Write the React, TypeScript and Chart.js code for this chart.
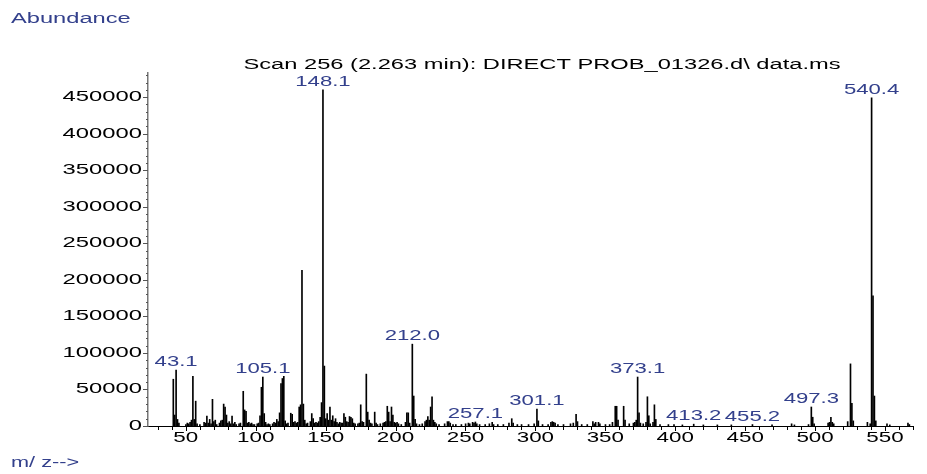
import React, { useEffect, useRef } from 'react';
import { Chart, registerables } from 'chart.js';

Chart.register(...registerables);

// m/z of each peak
const mzValues: number[] = [
  41.1, 42.1, 43.1, 44.1, 45.1, 50.1, 51.1, 52.1, 53.1, 54.1, 55.1, 56.1, 57.1, 58.1, 60.1,
  63.1, 64.1, 65.1, 66.1, 67.1, 68.1, 69.1, 70.1, 71.1, 72.1, 74.1, 75.1, 76.1, 77.1, 78.1,
  79.1, 80.1, 81.1, 82.1, 83.1, 84.1, 85.1, 86.1, 88.1, 89.1, 91.1, 92.1, 93.1, 94.1, 95.1,
  96.1, 97.1, 98.1, 99.1, 101.1, 102.1, 103.1, 104.1, 105.1, 106.1, 107.1, 108.1, 109.1, 110.1,
  112.1, 113.1, 114.1, 115.1, 116.1, 117.1, 118.1, 119.1, 120.1, 121.1, 122.1, 123.1, 125.1,
  126.1, 127.1, 128.1, 129.1, 130.1, 131.1, 132.1, 133.1, 134.1, 135.1, 136.1, 137.1, 139.1,
  140.1, 141.1, 142.1, 143.1, 144.1, 145.1, 146.1, 147.1, 148.1, 149.1, 150.1, 151.1, 152.1,
  153.1, 154.1, 155.1, 156.1, 157.1, 158.1, 159.1, 160.1, 161.1, 162.1, 163.1, 164.1, 165.1,
  166.1, 167.1, 168.1, 169.1, 170.1, 171.1, 173.1, 174.1, 175.1, 176.1, 177.1, 179.1, 180.1,
  181.1, 182.1, 183.1, 185.1, 186.1, 187.1, 189.1, 191.1, 192.1, 193.1, 194.1, 195.1, 196.1,
  197.1, 198.1, 199.1, 200.1, 201.1, 202.1, 204.1, 207.1, 208.1, 209.1, 210.1, 212.0, 213.0,
  214.0, 215.0, 217.1, 219.1, 221.1, 222.1, 223.1, 224.1, 225.1, 226.1, 227.1, 228.1, 229.1,
  231.1, 235.1, 237.1, 238.1, 239.1, 241.1, 243.1, 247.1, 250.1, 252.1, 253.1, 255.1, 256.1,
  257.1, 258.1, 260.1, 264.1, 267.1, 269.1, 270.1, 273.1, 277.1, 281.1, 283.1, 284.1, 287.1,
  290.1, 295.1, 299.1, 301.1, 302.1, 305.1, 309.1, 311.1, 312.1, 313.1, 314.1, 316.1, 320.1,
  325.1, 327.1, 329.1, 330.1, 333.1, 337.1, 341.1, 342.1, 343.1, 345.1, 346.1, 350.1, 353.1,
  355.1, 357.1, 358.1, 359.1, 363.1, 364.1, 367.1, 370.1, 371.1, 372.1, 373.1, 374.1, 375.1,
  377.1, 379.1, 380.1, 381.1, 382.1, 384.1, 385.1, 386.1, 389.1, 395.1, 399.1, 405.1, 413.2,
  420.1, 430.1, 440.1, 455.2, 469.2, 483.2, 485.2, 495.3, 497.3, 498.3, 499.3, 509.3, 510.3,
  511.3, 512.3, 513.3, 523.3, 525.3, 526.3, 527.3, 537.4, 539.4, 540.4, 541.4, 542.4, 543.4,
  551.4, 553.4, 566.4, 567.4,
];

// abundance of each peak (same order as mzValues)
const abundances: number[] = [
  64000, 15000, 76500, 9000, 4000, 2000, 4000, 3000, 5000, 8000, 68000, 9000, 34000, 3000, 2000,
  5000, 4000, 13500, 4000, 9000, 3000, 36500, 6000, 8000, 2000, 4000, 7000, 8000, 30000, 26000,
  15000, 4000, 6000, 3000, 13500, 3000, 5000, 2000, 3000, 4000, 47500, 22000, 20000, 4000, 5000,
  3000, 4000, 2000, 2000, 3000, 4000, 14000, 53000, 67000, 17000, 5000, 2000, 3000, 2000,
  3000, 5000, 4000, 9000, 6000, 18000, 58000, 65000, 68000, 7000, 3000, 4000, 17500,
  16000, 5000, 6000, 4000, 5000, 26000, 29000, 213000, 30000, 8000, 3000, 4000, 6000,
  17000, 10000, 4000, 5000, 4000, 6000, 12000, 32000, 460000, 82000, 10000, 17000, 8000,
  26000, 8000, 14000, 6000, 10000, 5000, 3000, 5000, 4000, 4000, 17000, 12000, 6000,
  5000, 13000, 12000, 10000, 4000, 3000, 3000, 4000, 29000, 6000, 5000, 71000, 19000,
  8000, 4000, 3000, 19000, 4000, 2000, 3000, 4000, 5000, 6000, 27000, 19000, 6000,
  26000, 15000, 5000, 4000, 5000, 3000, 2000, 5000, 18000, 18000, 4000, 112000, 41000,
  9000, 3000, 2000, 3000, 6000, 8000, 13000, 8000, 26000, 40000, 8000, 5000, 3000,
  2000, 3000, 6000, 6000, 4000, 2000, 2000, 2000, 3000, 4000, 3000, 5000, 4000,
  5500, 3000, 2000, 2000, 3000, 5000, 2000, 2000, 2000, 4000, 10000, 4000, 2000,
  2000, 2000, 3000, 23000, 7000, 2000, 2000, 5000, 6000, 5000, 4000, 2000, 2000,
  3000, 4000, 16000, 6000, 2000, 2000, 6000, 3000, 5000, 5000, 3000, 2000, 2000,
  5000, 27000, 27000, 8000, 27000, 8000, 3000, 4000, 5000, 8000, 67000, 18000, 4000,
  3000, 5000, 40000, 14000, 3000, 5000, 29000, 9000, 2000, 2000, 2000, 1500, 2500,
  1500, 1500, 1500, 2000, 1500, 3000, 1500, 2000, 26000, 12000, 3000, 4000, 5000,
  12000, 5000, 3000, 6000, 85000, 31000, 7000, 5000, 3000, 449000, 178000, 41000, 7000,
  3000, 1500, 4000, 2000,
];

const peakLabels: string[] = [
  '43.1', '105.1', '148.1', '212.0', '257.1', '301.1', '373.1', '413.2', '455.2', '497.3', '540.4',
];

const xTickValues: number[] = [50, 100, 150, 200, 250, 300, 350, 400, 450, 500, 550];
const yTickValues: number[] = [
  0, 50000, 100000, 150000, 200000, 250000, 300000, 350000, 400000, 450000,
];

const titleText = 'Scan 256 (2.263 min): DIRECT PROB_01326.d\\ data.ms';
const yAxisText = 'Abundance';
const xAxisText = 'm/ z-->';

const FONT = '14px "Liberation Sans", Arial, sans-serif';
const BLUE = '#33408c';

function stretchText(
  ctx: CanvasRenderingContext2D,
  text: string,
  x: number,
  y: number,
  align: CanvasTextAlign,
  baseline: CanvasTextBaseline,
  sx: number,
  color: string
) {
  ctx.save();
  ctx.font = FONT;
  ctx.fillStyle = color;
  ctx.textAlign = align;
  ctx.textBaseline = baseline;
  ctx.translate(x, y);
  ctx.scale(sx, 1);
  ctx.fillText(text, 0, 0);
  ctx.restore();
}

const decorPlugin = {
  id: 'decor',
  afterDraw(chart: any) {
    const { ctx, chartArea } = chart;
    const x = chart.scales.x;
    const y = chart.scales.y;
    const bottom = chartArea.bottom;
    const left = chartArea.left;

    ctx.save();
    // x tick marks
    ctx.strokeStyle = '#000';
    ctx.lineWidth = 1;
    ctx.beginPath();
    for (let v = Math.ceil(x.min / 10) * 10; v <= x.max; v += 10) {
      const px = Math.round(x.getPixelForValue(v)) + 0.5;
      const len = v % 50 === 0 ? 5 : 4;
      ctx.moveTo(px, bottom);
      ctx.lineTo(px, bottom + len);
    }
    ctx.stroke();

    // y tick marks
    ctx.strokeStyle = '#555';
    ctx.beginPath();
    for (let v = 0; v <= y.max; v += 10000) {
      const py = Math.round(y.getPixelForValue(v)) + 0.5;
      const len = v % 50000 === 0 ? 5 : 2;
      ctx.moveTo(left, py);
      ctx.lineTo(left - len, py);
    }
    ctx.stroke();
    ctx.restore();

    // tick labels
    xTickValues.forEach((v) => {
      stretchText(ctx, String(v), x.getPixelForValue(v), bottom + 12, 'center', 'middle', 1.6, '#000');
    });
    yTickValues.forEach((v) => {
      stretchText(ctx, String(v), left - 6, y.getPixelForValue(v), 'right', 'middle', 1.7, '#000');
    });

    // peak labels
    peakLabels.forEach((lab) => {
      const mz = parseFloat(lab);
      let best = 0;
      mzValues.forEach((m, i) => {
        if (Math.abs(m - mz) < Math.abs(mzValues[best] - mz)) best = i;
      });
      const px = x.getPixelForValue(mz);
      const py = y.getPixelForValue(abundances[best]);
      stretchText(ctx, lab, px, py - 4, 'center', 'alphabetic', 1.58, BLUE);
    });

    // titles
    stretchText(ctx, titleText, 542, 65, 'center', 'middle', 1.69, '#000');
    stretchText(ctx, yAxisText, 11, 19, 'left', 'middle', 1.69, BLUE);
    stretchText(ctx, xAxisText, 11, 463, 'left', 'middle', 1.55, BLUE);
  },
};

export default function App() {
  const canvasRef = useRef<HTMLCanvasElement | null>(null);

  useEffect(() => {
    const canvas = canvasRef.current;
    if (!canvas) return;
    const chart = new Chart(canvas, {
      type: 'bar',
      data: {
        datasets: [
          {
            data: mzValues.map((m, i) => ({ x: m, y: abundances[i] })),
            backgroundColor: '#000',
            borderWidth: 0,
            barThickness: 1,
          } as any,
        ],
      },
      options: {
        animation: false,
        responsive: false,
        devicePixelRatio: 1,
        layout: { padding: { left: 148, top: 73, right: 14, bottom: 48 } },
        plugins: {
          legend: { display: false },
          tooltip: { enabled: false },
          title: { display: false },
        },
        scales: {
          x: {
            type: 'linear',
            min: 23,
            max: 570,
            offset: false,
            grid: { display: false, drawTicks: false },
            border: { display: true, color: '#000', width: 1 },
            ticks: { display: false },
          },
          y: {
            type: 'linear',
            min: 0,
            max: 483000,
            grid: { display: false, drawTicks: false },
            border: { display: true, color: '#777', width: 1.5 },
            ticks: { display: false },
          },
        },
      } as any,
      plugins: [decorPlugin],
    });
    return () => chart.destroy();
  }, []);

  return (
    <div style={{ position: 'fixed', left: 0, top: 0, width: 927, height: 474, background: '#fff' }}>
      <canvas ref={canvasRef} width={927} height={474} style={{ width: 927, height: 474, display: 'block' }} />
    </div>
  );
}
